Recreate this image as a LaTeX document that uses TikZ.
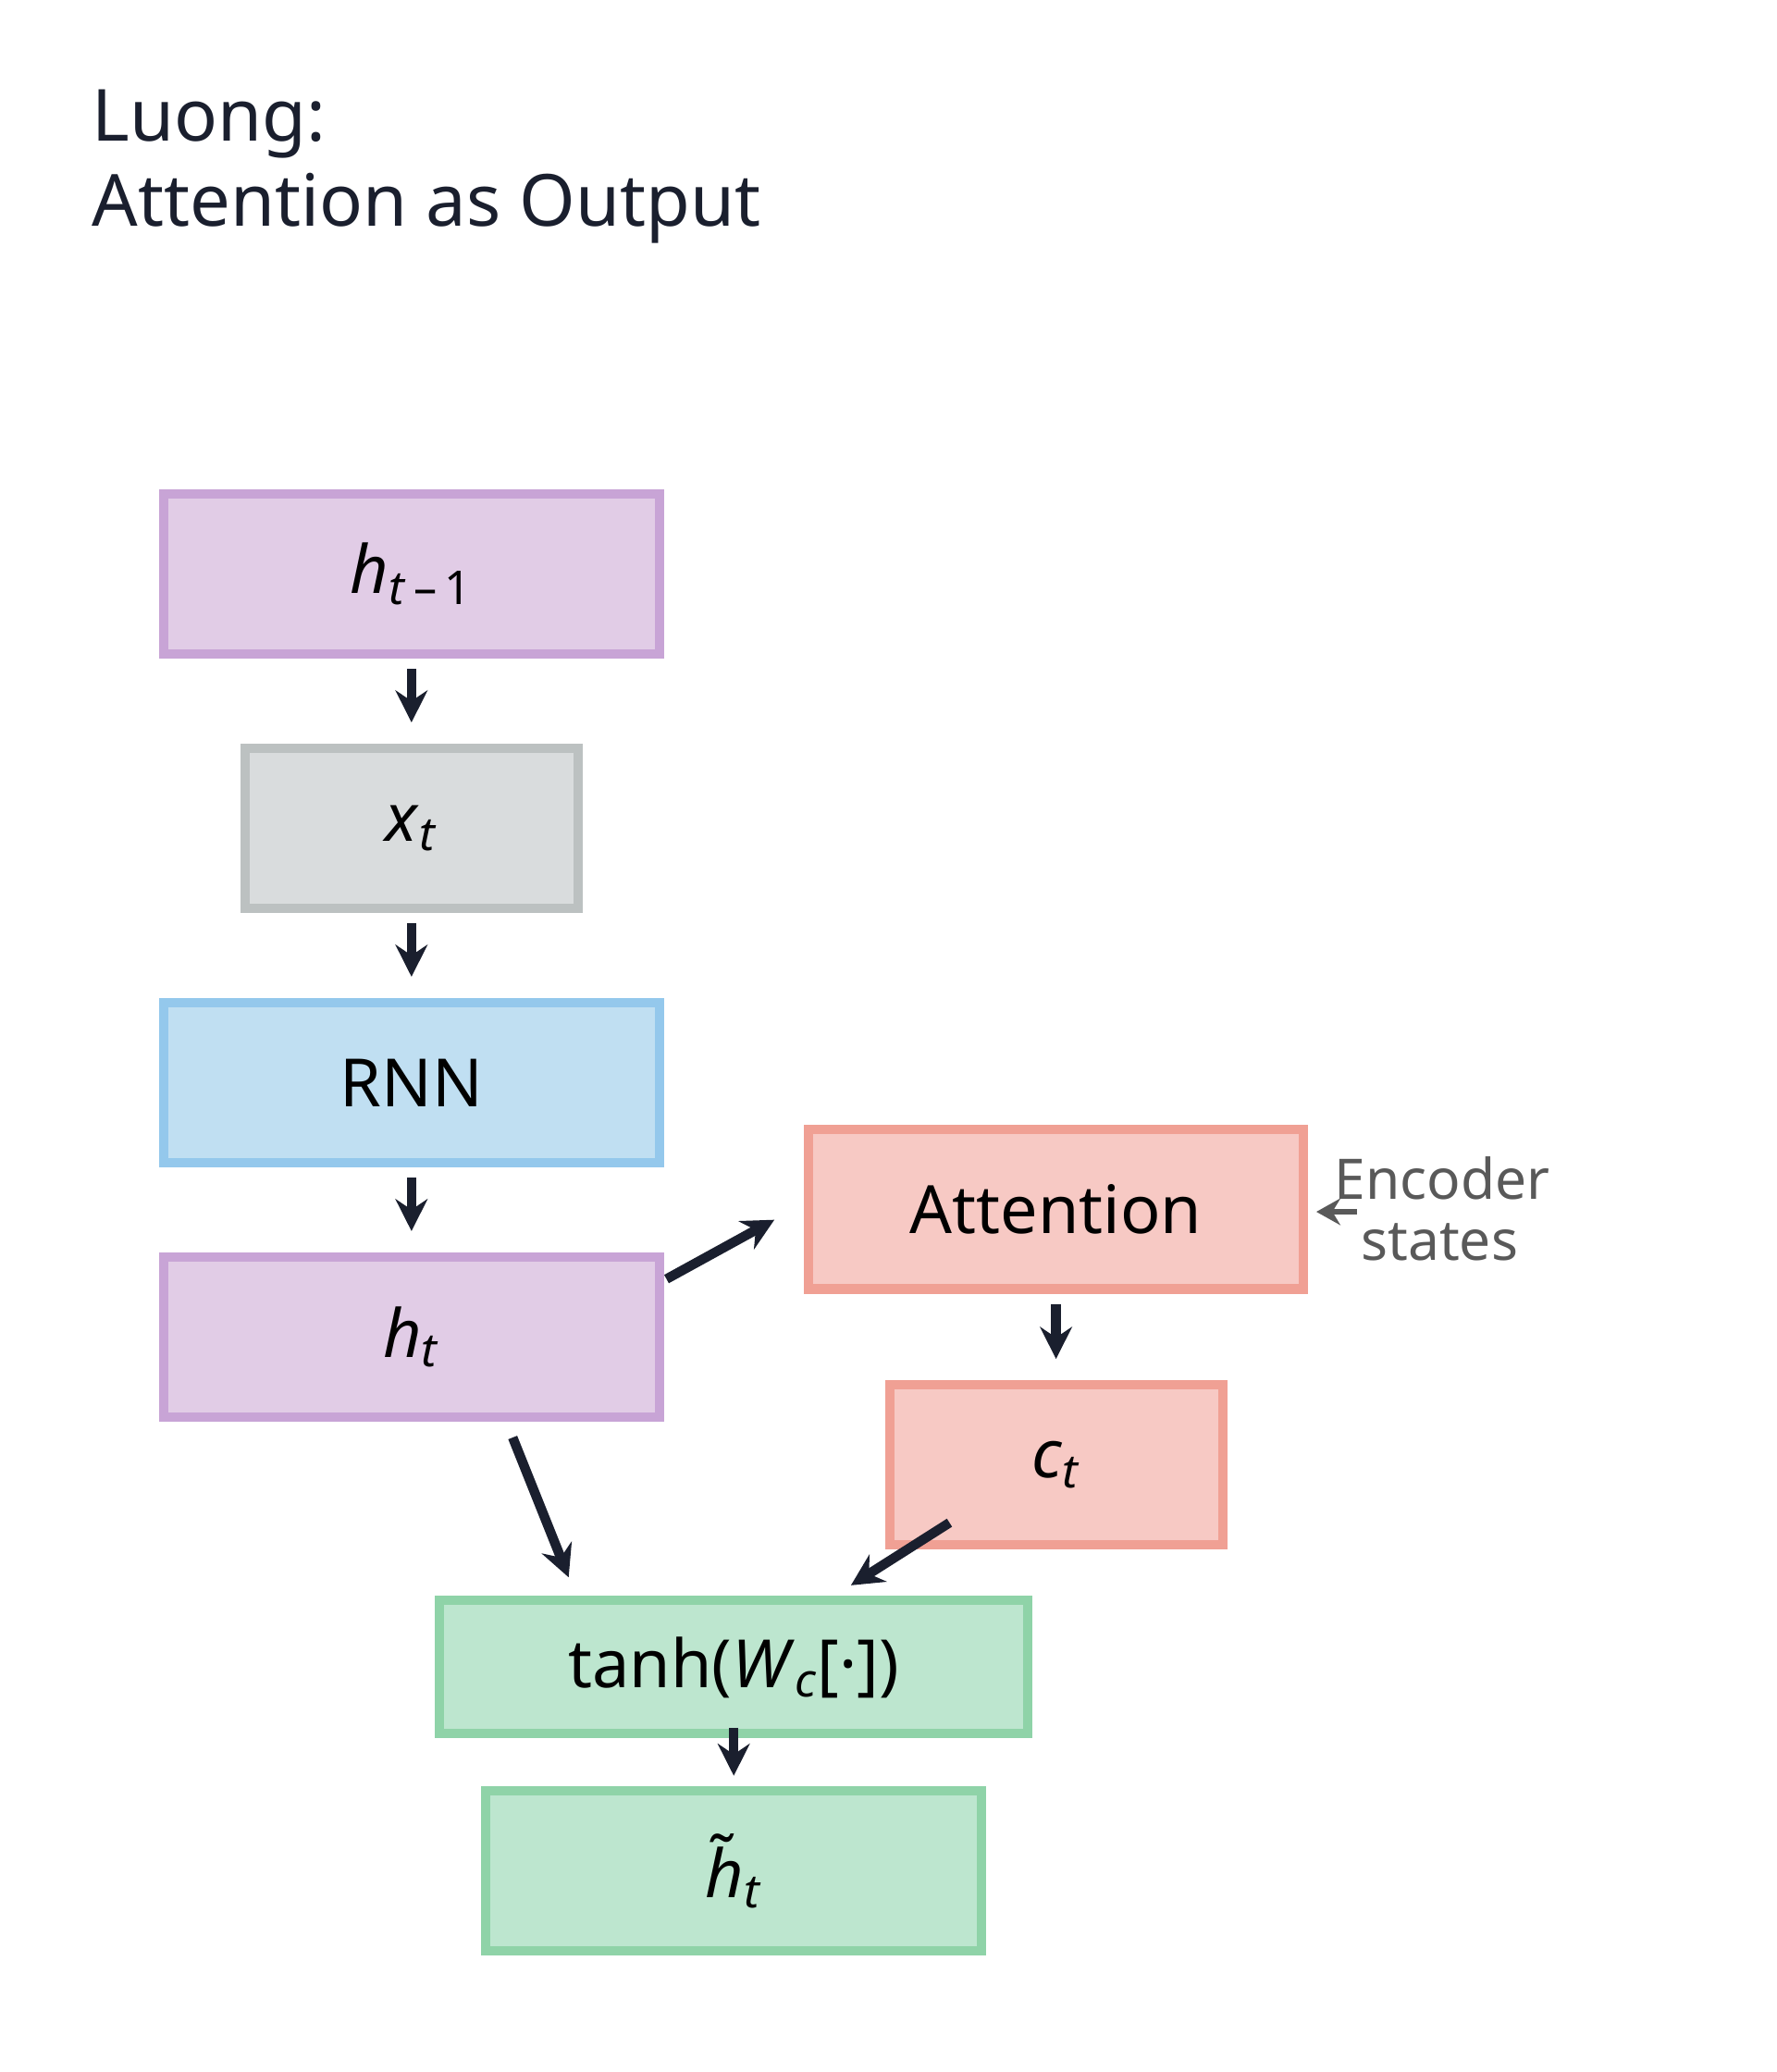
\documentclass[tikz,border=0pt]{standalone}
\usepackage{fontspec}
\setmainfont{Noto Sans}
\usetikzlibrary{arrows.meta,calc}
\definecolor{ink}{RGB}{26,31,46}
\definecolor{purfill}{RGB}{225,204,230}\definecolor{purline}{RGB}{200,164,214}
\definecolor{gryfill}{RGB}{217,220,221}\definecolor{gryline}{RGB}{188,193,193}
\definecolor{blufill}{RGB}{192,223,242}\definecolor{bluline}{RGB}{148,200,236}
\definecolor{redfill}{RGB}{247,201,196}\definecolor{redline}{RGB}{240,160,148}
\definecolor{grnfill}{RGB}{189,230,207}\definecolor{grnline}{RGB}{143,211,168}
\newcommand{\vr}[1]{\textit{#1}}
\begin{document}
\begin{tikzpicture}[x=0.5pt,y=-0.5pt,
	blk/.style={rectangle,line width=3.5pt,inner sep=0pt,font=\fontsize{25}{28}\selectfont},
	flow/.style={-{Stealth[length=12pt,width=12pt,inset=4pt]},line width=3.6pt,color=ink}]
	\useasboundingbox (0,0) rectangle (1334,1556);

	\node [anchor=west,font=\fontsize{27}{32}\selectfont,text=ink,align=left] (title) at (62,125) {Luong:\\Attention as Output};

	\node [blk,fill=purfill,draw=purline,minimum width=186pt,minimum height=60pt] (hprev) at (309,431) {\vr{h}\textsubscript{\vr{t}\,–\,1}};
	\node [blk,fill=gryfill,draw=gryline,minimum width=125pt,minimum height=60pt] (xt) at (309,622) {\vr{x}\textsubscript{\vr{t}}};
	\node [blk,fill=blufill,draw=bluline,minimum width=186pt,minimum height=60pt] (rnn) at (309,813) {RNN};
	\node [blk,fill=purfill,draw=purline,minimum width=186pt,minimum height=60pt] (ht) at (309,1004) {\vr{h}\textsubscript{\vr{t}}};
	\node [blk,fill=redfill,draw=redline,minimum width=186pt,minimum height=60pt] (att) at (793,908) {Attention};
	\node [blk,fill=redfill,draw=redline,minimum width=125pt,minimum height=60pt] (ct) at (793,1100) {\vr{c}\textsubscript{\vr{t}}};
	\node [blk,fill=grnfill,draw=grnline,minimum width=221pt,minimum height=50pt] (tanh) at (551,1252) {tanh(\vr{W}\textsubscript{\vr{c}}[·])};
	\node [blk,fill=grnfill,draw=grnline,minimum width=186pt,minimum height=60pt] (hout) at (551,1405) {\vr{h̃}\textsubscript{\vr{t}}};
	\node [anchor=west,align=left,text=black!65,font=\fontsize{21}{23}\selectfont] (enc) at (995,908) {Encoder\\\hspace*{10pt}states};

	\draw [flow,shorten <=4pt,shorten >=8pt] (hprev) -- (xt);
	\draw [flow,shorten <=4pt,shorten >=8pt] (xt) -- (rnn);
	\draw [flow,shorten <=4pt,shorten >=8pt] (rnn) -- (ht);
	\draw [flow,shorten <=4pt,shorten >=8pt] (att) -- (ct);
	\draw [flow,shorten <=-4pt,shorten >=4pt] (tanh) -- (hout);
	\draw [flow] ($(ht.north east)+(2,20)$) -- ($(att.west)+(-22,8)$);
	\draw [flow] ($(ht.south)+(76,12)$) -- ($(tanh.north)+(-124,-14)$);
	\draw [flow] ($(ct.south)+(-80,-20)$) -- ($(tanh.north)+(88,-8)$);
	\draw [-{Stealth[length=9pt,width=10pt,inset=3pt]},line width=2.4pt,black!65] ($(enc.west)+(24,2)$) -- ($(att.east)+(6,2)$);
\end{tikzpicture}
\end{document}
